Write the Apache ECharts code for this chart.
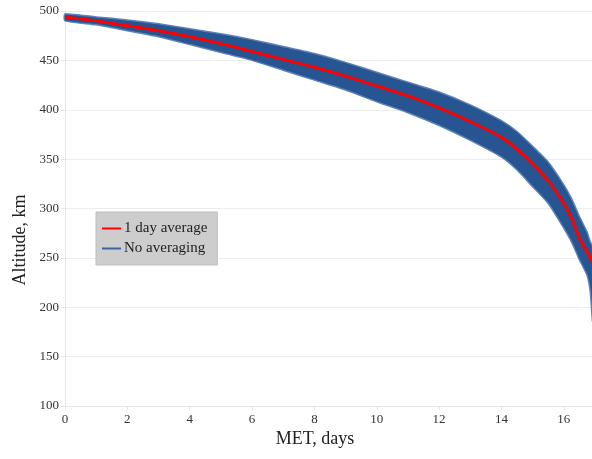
<!DOCTYPE html>
<html>
<head>
<meta charset="utf-8">
<script src="https://cdn.jsdelivr.net/npm/echarts@6/dist/echarts.min.js"></script>
<style>html,body{margin:0;padding:0;background:#fff}#c{width:592px;height:459px}</style>
</head>
<body>
<div id="c"></div>
<script>
// MET, days
const days  = [0, 1, 2, 3, 4, 5, 6, 7, 8, 9, 10, 11, 12, 13, 14, 14.5, 15, 15.5, 16, 16.25, 16.5, 16.75, 16.85, 16.92];
// 1 day average altitude, km
const avg   = [494, 490, 485, 480, 474, 467, 459, 451, 443, 434, 424, 414, 402, 388, 372, 360, 345, 328, 305, 290, 270, 256, 250, 245];
// No averaging: upper and lower envelope of the per-orbit oscillation, km
const upper = [497, 494, 491, 487, 482, 477, 471, 464, 457, 448, 438, 428, 418, 405, 389, 378, 363, 347, 324, 310, 292, 276, 266, 262];
const lower = [490, 486, 480, 474, 466, 458, 450, 440, 430, 420, 408, 397, 384, 369, 352, 339, 322, 305, 280, 266, 248, 232, 215, 186];

const serif = '"Liberation Serif", "DejaVu Serif", serif';
const chart = echarts.init(document.getElementById('c'), null, {renderer: 'canvas'});

chart.setOption({
  animation: false,
  backgroundColor: '#ffffff',
  grid: {left: 65, top: 11, width: 530, bottom: 53, containLabel: false, outerBoundsMode: 'none'},
  graphic: [
    {type: 'text', x: 315, y: 439, style: {text: 'MET, days', font: '18px ' + serif, fill: '#222', textAlign: 'center', textVerticalAlign: 'middle'}},
    {type: 'text', x: 20, y: 240, rotation: Math.PI / 2, style: {text: 'Altitude, km', font: '18px ' + serif, fill: '#222', textAlign: 'center', textVerticalAlign: 'middle'}}
  ],
  xAxis: {
    type: 'value', min: 0, max: 17, interval: 2,
    axisLine: {show: true, lineStyle: {color: '#e6e6e6', width: 1}},
    axisTick: {show: true, length: 4, lineStyle: {color: '#e6e6e6'}},
    axisLabel: {fontFamily: serif, fontSize: 13, color: '#333', margin: 7, showMaxLabel: false},
    splitLine: {show: false}
  },
  yAxis: {
    type: 'value', min: 100, max: 500, interval: 50,
    axisLine: {show: true, lineStyle: {color: '#e6e6e6', width: 1}},
    axisTick: {show: true, length: 4, lineStyle: {color: '#e6e6e6'}},
    axisLabel: {fontFamily: serif, fontSize: 13, color: '#333', margin: 6},
    splitLine: {show: true, lineStyle: {color: '#ececec', width: 1}}
  },
  legend: {
    data: [
      {name: '1 day average', itemStyle: {color: '#ff0000'}},
      {name: 'No averaging', itemStyle: {color: '#3a63a0'}}
    ],
    orient: 'vertical', left: 96, top: 212,
    backgroundColor: '#cdcdcd', borderColor: '#bdbdbd', borderWidth: 1, borderRadius: 0,
    padding: [9, 10, 9, 6], itemGap: 5,
    icon: 'rect', itemWidth: 19, itemHeight: 2,
    textStyle: {fontFamily: serif, fontSize: 15, color: '#222', padding: [0, 0, 0, -2]}
  },
  series: [
    {
      name: 'No averaging', type: 'custom', z: 2,
      itemStyle: {color: '#3a63a0'},
      data: days.map((d, i) => [d, upper[i], lower[i]]),
      encode: {x: 0, y: [1, 2]},
      renderItem: function (params, api) {
        if (params.dataIndex !== 0) return null;
        const up = [], lo = [];
        for (let i = 0; i < days.length; i++) {
          up.push(api.coord([days[i], upper[i]]));
          lo.push(api.coord([days[i], lower[i]]));
        }
        const pts = up.concat(lo.reverse());
        return {
          type: 'group',
          children: [
            {type: 'polygon', shape: {points: pts, smooth: 0.2},
             style: {fill: '#1d4e8e', stroke: '#5a80b6', lineWidth: 1.5, opacity: 0.96}}
          ]
        };
      }
    },
    {
      name: '1 day average', type: 'line', symbol: 'none', smooth: 0.3, z: 3,
      data: days.map((d, i) => [d, avg[i]]),
      lineStyle: {width: 3, color: '#ff0000'}, itemStyle: {color: '#ff0000'}
    }
  ]
});
</script>
</body>
</html>
